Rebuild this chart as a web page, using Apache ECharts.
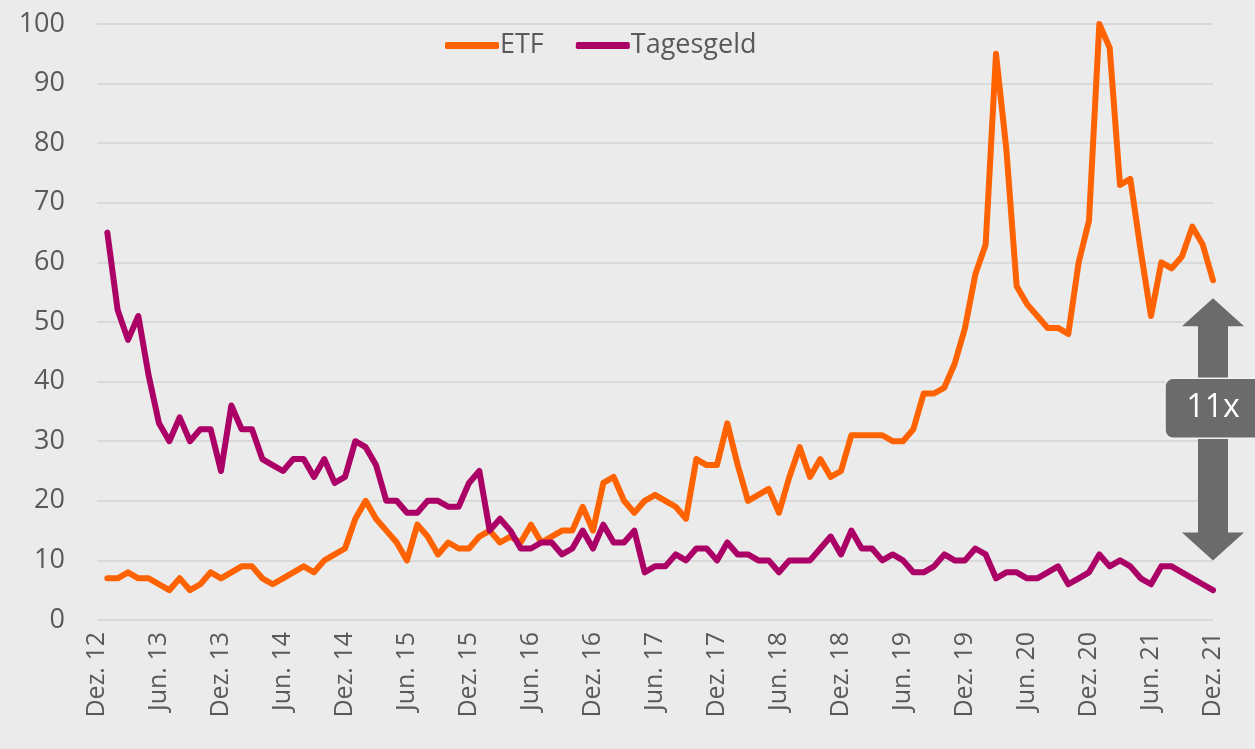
<!DOCTYPE html>
<html>
<head>
<meta charset="utf-8">
<script src="https://cdn.jsdelivr.net/npm/echarts@6/dist/echarts.min.js"></script>
<style>
  html, body { margin: 0; padding: 0; background: #ebebeb; }
  #chart { width: 1255px; height: 749px; }
</style>
</head>
<body>
<div id="chart"></div>
<script>
// monthly values, Jan 13 .. Dez 21
var etf = [7, 7, 8, 7, 7, 6, 5, 7, 5, 6, 8, 7, 8, 9, 9, 7, 6, 7, 8, 9, 8, 10, 11, 12,
    17, 20, 17, 15, 13, 10, 16, 14, 11, 13, 12, 12, 14, 15, 13, 14, 13, 16, 13, 14,
    15, 15, 19, 15, 23, 24, 20, 18, 20, 21, 20, 19, 17, 27, 26, 26, 33, 26, 20, 21,
    22, 18, 24, 29, 24, 27, 24, 25, 31, 31, 31, 31, 30, 30, 32, 38, 38, 39, 43, 49,
    58, 63, 95, 79, 56, 53, 51, 49, 49, 48, 60, 67, 100, 96, 73, 74, 62, 51, 60, 59,
    61, 66, 63, 57];
var tagesgeld = [65, 52, 47, 51, 41, 33, 30, 34, 30, 32, 32, 25, 36, 32, 32, 27, 26, 25, 27, 27,
    24, 27, 23, 24, 30, 29, 26, 20, 20, 18, 18, 20, 20, 19, 19, 23, 25, 15, 17, 15,
    12, 12, 13, 13, 11, 12, 15, 12, 16, 13, 13, 15, 8, 9, 9, 11, 10, 12, 12, 10,
    13, 11, 11, 10, 10, 8, 10, 10, 10, 12, 14, 11, 15, 12, 12, 10, 11, 10, 8, 8,
    9, 11, 10, 10, 12, 11, 7, 8, 8, 7, 7, 8, 9, 6, 7, 8, 11, 9, 10, 9,
    7, 6, 9, 9, 8, 7, 6, 5];
var tickLabels = ['Dez. 12', 'Jun. 13', 'Dez. 13', 'Jun. 14', 'Dez. 14', 'Jun. 15', 'Dez. 15',
    'Jun. 16', 'Dez. 16', 'Jun. 17', 'Dez. 17', 'Jun. 18', 'Dez. 18', 'Jun. 19', 'Dez. 19',
    'Jun. 20', 'Dez. 20', 'Jun. 21', 'Dez. 21'];
var factorLabel = '11x';

var font = 'Open Sans';
var textColor = '#595959';

function pts(arr) { return arr.map(function (v, i) { return [i, v]; }); }

var chart = echarts.init(document.getElementById('chart'));
chart.setOption({
    backgroundColor: '#ebebeb',
    animation: false,
    color: ['#ff6200', '#ab0066'],
    textStyle: { fontFamily: font },
    grid: { left: 97, right: 42, top: 24, bottom: 129 },
    legend: {
        left: 440, top: 27, icon: 'roundRect',
        itemWidth: 54, itemHeight: 7, itemGap: 32,
        textStyle: { fontSize: 27, color: textColor, fontFamily: font, padding: [0, 0, 0, -4] },
        data: ['ETF', 'Tagesgeld']
    },
    xAxis: {
        type: 'value', min: -1, max: etf.length - 1, interval: 6,
        axisLine: { show: false }, axisTick: { show: false }, splitLine: { show: false },
        axisLabel: {
            rotate: 90, margin: 12, fontSize: 25, color: textColor, fontFamily: font,
            formatter: function (v) { return tickLabels[(v + 1) / 6] || ''; }
        }
    },
    yAxis: {
        type: 'value', min: 0, max: 100, interval: 10,
        axisLine: { show: false }, axisTick: { show: false },
        splitLine: { lineStyle: { color: '#d9d9d9', width: 2 } },
        axisLabel: { margin: 32, fontSize: 27, color: textColor, fontFamily: font }
    },
    series: [
        { name: 'ETF', type: 'line', symbol: 'none', data: pts(etf),
          lineStyle: { width: 6, cap: 'round', join: 'round' } },
        { name: 'Tagesgeld', type: 'line', symbol: 'none', data: pts(tagesgeld),
          lineStyle: { width: 6, cap: 'round', join: 'round' } }
    ]
});

// double arrow annotation between the two end values
var lastIdx = etf.length - 1;
var upTip = chart.convertToPixel({ gridIndex: 0 }, [lastIdx, 54]);
var downTip = chart.convertToPixel({ gridIndex: 0 }, [lastIdx, 10]);
var cx = upTip[0], head = 28, hw = 31, sw = 15;
var mid = (upTip[1] + downTip[1]) / 2 - 21;
chart.setOption({
    graphic: [
        { type: 'polygon', z: 100, shape: { points: [
            [cx, upTip[1]], [cx + hw, upTip[1] + head], [cx + sw, upTip[1] + head],
            [cx + sw, downTip[1] - head], [cx + hw, downTip[1] - head], [cx, downTip[1]],
            [cx - hw, downTip[1] - head], [cx - sw, downTip[1] - head], [cx - sw, upTip[1] + head],
            [cx - hw, upTip[1] + head]
          ] }, style: { fill: '#6b6b6b' } },
        { type: 'rect', z: 101, shape: { x: cx - 48, y: mid - 30, width: 100, height: 60, r: 8 },
          style: { fill: '#6b6b6b', stroke: '#f2f2f2', lineWidth: 1.5 } },
        { type: 'text', z: 102, style: { text: factorLabel, x: cx, y: mid, align: 'center',
          verticalAlign: 'middle', fill: '#ffffff', font: '32px "' + font + '"' } }
    ]
});
</script>
</body>
</html>
